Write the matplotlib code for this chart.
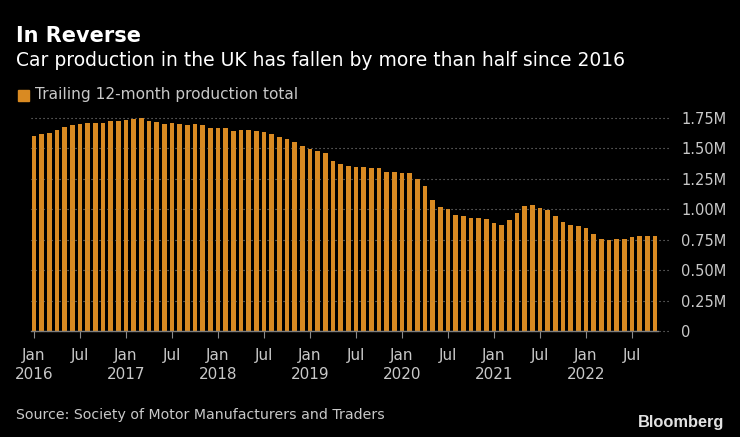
import matplotlib
matplotlib.use("Agg")
import matplotlib.pyplot as plt

# trailing 12-month total, millions, Jan 2016 - Oct 2022
production = [
    1.605, 1.616, 1.624, 1.652, 1.679, 1.690, 1.698, 1.706, 1.706, 1.706,
    1.725, 1.725, 1.733, 1.744, 1.752, 1.725, 1.714, 1.698, 1.706, 1.698,
    1.690, 1.698, 1.690, 1.671, 1.671, 1.671, 1.643, 1.652, 1.652, 1.643,
    1.632, 1.616, 1.597, 1.578, 1.550, 1.523, 1.498, 1.479, 1.460, 1.394,
    1.375, 1.356, 1.345, 1.345, 1.337, 1.337, 1.309, 1.309, 1.298, 1.298,
    1.252, 1.189, 1.076, 1.022, 1.003, 0.956, 0.948, 0.929, 0.929, 0.918,
    0.890, 0.871, 0.909, 0.972, 1.027, 1.038, 1.011, 0.994, 0.945, 0.898,
    0.871, 0.863, 0.844, 0.794, 0.759, 0.748, 0.759, 0.759, 0.770, 0.778,
    0.778, 0.778,
]
x_ticks = [0, 6, 12, 18, 24, 30, 36, 42, 48, 54, 60, 66, 72, 78]
x_labels = ["Jan\n2016", "Jul", "Jan\n2017", "Jul", "Jan\n2018", "Jul", "Jan\n2019", "Jul",
            "Jan\n2020", "Jul", "Jan\n2021", "Jul", "Jan\n2022", "Jul"]
y_ticks = [0, 0.25, 0.5, 0.75, 1.0, 1.25, 1.5, 1.75]
y_labels = ["0", "0.25M", "0.50M", "0.75M", "1.00M", "1.25M", "1.50M", "1.75M"]

W, H = 740, 437
BAR = "#d98a22"
TEXT = "#c8c8c8"

fig = plt.figure(figsize=(W / 100, H / 100), dpi=100, facecolor="black")
ax = fig.add_axes([31 / W, 1 - 331 / H, 639 / W, 213 / H], facecolor="black")

ax.bar(range(len(production)), production, width=0.63, color=BAR, zorder=3)
ax.set_xlim(-0.39, 82.95)
ax.set_ylim(0, 1.75)

# dotted grid, with a faint copy showing through the bars
for y in y_ticks:
    ax.axhline(y, color="#777777", lw=0.8, ls=(0, (1, 2.6)), zorder=2, clip_on=False)
    ax.axhline(y, color="#777777", lw=0.8, ls=(0, (1, 2.6)), alpha=0.3, zorder=4, clip_on=False)
ax.plot([-0.39, 81.4], [0, 0], color="#7d7d7d", lw=1, zorder=5, clip_on=False)

for s in ax.spines.values():
    s.set_visible(False)
ax.yaxis.tick_right()
ax.set_yticks(y_ticks, y_labels)
ax.set_xticks(x_ticks, x_labels)
ax.tick_params(axis="y", length=0, pad=8, labelsize=10.5, labelcolor=TEXT)
ax.tick_params(axis="x", length=5, width=0.8, color="#8a8a8a", pad=7, labelsize=11, labelcolor=TEXT)
for t in ax.get_xticklabels():
    t.set_linespacing(1.35)

fig.text(16 / W, 1 - 36 / H, "In Reverse", color="white", fontsize=15, fontweight="bold", va="center")
fig.text(16 / W, 1 - 60 / H, "Car production in the UK has fallen by more than half since 2016",
         color="white", fontsize=13.5, va="center")
fig.patches.append(plt.Rectangle((18 / W, 1 - 101 / H), 11 / W, 11 / H, color=BAR, transform=fig.transFigure))
fig.text(35 / W, 1 - 95 / H, "Trailing 12-month production total", color=TEXT, fontsize=11.1, va="center")
fig.text(16 / W, 1 - 415 / H, "Source: Society of Motor Manufacturers and Traders", color=TEXT, fontsize=10.18, va="center")
fig.text(724 / W, 1 - 422 / H, "Bloomberg", color="#e2e2e2", fontsize=11.8, fontweight="bold",
         family="Liberation Sans", ha="right", va="center")

fig.savefig("out.png", dpi=100, facecolor="black")
